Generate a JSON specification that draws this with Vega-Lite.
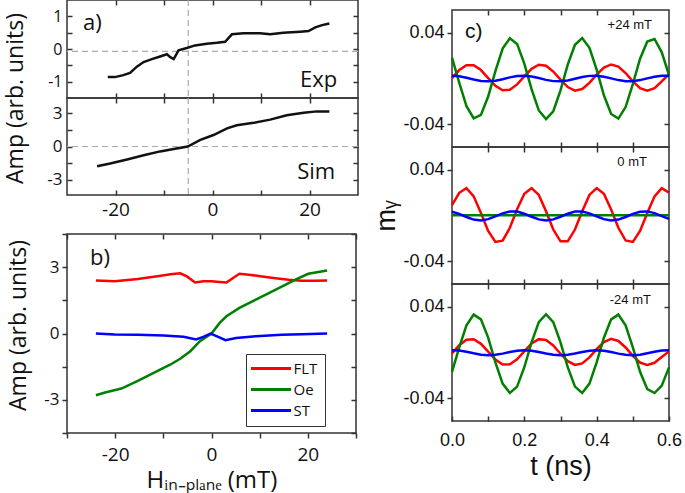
{
"$schema": "https://vega.github.io/schema/vega-lite/v6.json",
"padding": {"left": 4, "top": -2, "right": 2, "bottom": 2},
"config": {
  "view": {"stroke": "#333", "strokeWidth": 1.5},
  "font": "Open Sans",
  "axis": {"grid": false, "domain": false, "tickColor": "#333", "tickWidth": 1.5, "labelColor": "#111", "titleColor": "#111", "labelFont": "Open Sans", "titleFont": "Open Sans", "titleFontWeight": "normal", "labelOverlap": false, "labelFlush": false},
  "text": {"color": "#111"}
},
"datasets": {
  "exp": [{"h":-21.6,"a":-0.86},{"h":-20.1,"a":-0.86},{"h":-18.4,"a":-0.8},{"h":-17,"a":-0.73},{"h":-15.6,"a":-0.54},{"h":-14.2,"a":-0.4},{"h":-12.5,"a":-0.31},{"h":-10.8,"a":-0.23},{"h":-9.4,"a":-0.16},{"h":-8.7,"a":-0.25},{"h":-8,"a":-0.31},{"h":-7,"a":-0.04},{"h":-5.3,"a":0.03},{"h":-3.6,"a":0.11},{"h":-1.2,"a":0.16},{"h":0.9,"a":0.19},{"h":2.6,"a":0.22},{"h":4,"a":0.45},{"h":6.4,"a":0.48},{"h":9.8,"a":0.48},{"h":11.9,"a":0.45},{"h":14.6,"a":0.5},{"h":18.1,"a":0.53},{"h":19.8,"a":0.55},{"h":21.2,"a":0.66},{"h":22.6,"a":0.73},{"h":24.1,"a":0.78}],
  "sim": [{"h":-23.8,"a":-1.77},{"h":-21.1,"a":-1.53},{"h":-17.6,"a":-1.17},{"h":-14.2,"a":-0.79},{"h":-10.8,"a":-0.44},{"h":-8,"a":-0.23},{"h":-5.1,"a":0},{"h":-2.5,"a":0.59},{"h":0.2,"a":1.03},{"h":3,"a":1.62},{"h":5,"a":1.91},{"h":8.5,"a":2.12},{"h":11.9,"a":2.41},{"h":15.3,"a":2.8},{"h":18.8,"a":3.03},{"h":21.5,"a":3.15},{"h":24.1,"a":3.15}],
  "b": [
    {"s":"FLT","h":-24,"a":2.4},{"s":"FLT","h":-20.1,"a":2.36},{"s":"FLT","h":-15.3,"a":2.46},{"s":"FLT","h":-10.5,"a":2.61},{"s":"FLT","h":-8.5,"a":2.68},{"s":"FLT","h":-6.5,"a":2.72},{"s":"FLT","h":-5.1,"a":2.58},{"s":"FLT","h":-3.4,"a":2.31},{"s":"FLT","h":-1.7,"a":2.36},{"s":"FLT","h":0,"a":2.36},{"s":"FLT","h":1.7,"a":2.33},{"s":"FLT","h":3.1,"a":2.31},{"s":"FLT","h":4.4,"a":2.5},{"s":"FLT","h":5.8,"a":2.7},{"s":"FLT","h":7.8,"a":2.66},{"s":"FLT","h":10.5,"a":2.58},{"s":"FLT","h":13.3,"a":2.5},{"s":"FLT","h":16,"a":2.43},{"s":"FLT","h":18.7,"a":2.39},{"s":"FLT","h":21.4,"a":2.39},{"s":"FLT","h":24,"a":2.4},
    {"s":"Oe","h":-24,"a":-2.79},{"s":"Oe","h":-22.1,"a":-2.67},{"s":"Oe","h":-18.7,"a":-2.49},{"s":"Oe","h":-15.3,"a":-2.14},{"s":"Oe","h":-11.9,"a":-1.77},{"s":"Oe","h":-8.5,"a":-1.4},{"s":"Oe","h":-6.5,"a":-1.14},{"s":"Oe","h":-4.4,"a":-0.8},{"s":"Oe","h":-2.4,"a":-0.35},{"s":"Oe","h":0,"a":0},{"s":"Oe","h":1.7,"a":0.48},{"s":"Oe","h":3.1,"a":0.78},{"s":"Oe","h":5.8,"a":1.16},{"s":"Oe","h":9.2,"a":1.53},{"s":"Oe","h":11.9,"a":1.83},{"s":"Oe","h":15.3,"a":2.2},{"s":"Oe","h":17.3,"a":2.43},{"s":"Oe","h":20.1,"a":2.7},{"s":"Oe","h":24,"a":2.85},
    {"s":"ST","h":-24,"a":0},{"s":"ST","h":-20.1,"a":-0.05},{"s":"ST","h":-15.3,"a":-0.06},{"s":"ST","h":-9.9,"a":-0.09},{"s":"ST","h":-5.8,"a":-0.15},{"s":"ST","h":-3.2,"a":-0.27},{"s":"ST","h":-1.7,"a":-0.15},{"s":"ST","h":-0.2,"a":0},{"s":"ST","h":1.4,"a":-0.15},{"s":"ST","h":2.9,"a":-0.3},{"s":"ST","h":5.1,"a":-0.2},{"s":"ST","h":9.2,"a":-0.12},{"s":"ST","h":14.6,"a":-0.06},{"s":"ST","h":18.7,"a":-0.03},{"s":"ST","h":24,"a":0}
  ],
  "c1": [
    {"s":"FLT","t":0,"m":0.0004},{"s":"FLT","t":0.02,"m":0.0074},{"s":"FLT","t":0.04,"m":0.0117},{"s":"FLT","t":0.06,"m":0.0117},{"s":"FLT","t":0.08,"m":0.0074},{"s":"FLT","t":0.1,"m":0.0004},{"s":"FLT","t":0.12,"m":-0.0064},{"s":"FLT","t":0.14,"m":-0.0103},{"s":"FLT","t":0.16,"m":-0.0098},{"s":"FLT","t":0.18,"m":-0.0052},{"s":"FLT","t":0.2,"m":0.0019},{"s":"FLT","t":0.22,"m":0.0085},{"s":"FLT","t":0.24,"m":0.0121},{"s":"FLT","t":0.26,"m":0.0112},{"s":"FLT","t":0.28,"m":0.0061},{"s":"FLT","t":0.3,"m":-0.001},{"s":"FLT","t":0.32,"m":-0.0075},{"s":"FLT","t":0.34,"m":-0.0106},{"s":"FLT","t":0.36,"m":-0.0092},{"s":"FLT","t":0.38,"m":-0.0038},{"s":"FLT","t":0.4,"m":0.0034},{"s":"FLT","t":0.42,"m":0.0095},{"s":"FLT","t":0.44,"m":0.0123},{"s":"FLT","t":0.46,"m":0.0104},{"s":"FLT","t":0.48,"m":0.0048},{"s":"FLT","t":0.5,"m":-0.0025},{"s":"FLT","t":0.52,"m":-0.0084},{"s":"FLT","t":0.54,"m":-0.0107},{"s":"FLT","t":0.56,"m":-0.0084},{"s":"FLT","t":0.58,"m":-0.0025},{"s":"FLT","t":0.6,"m":0.0038},
    {"s":"Oe","t":0,"m":0.0182},{"s":"Oe","t":0.02,"m":-0.0037},{"s":"Oe","t":0.04,"m":-0.0242},{"s":"Oe","t":0.06,"m":-0.0349},{"s":"Oe","t":0.08,"m":-0.0319},{"s":"Oe","t":0.1,"m":-0.0158},{"s":"Oe","t":0.12,"m":0.0065},{"s":"Oe","t":0.14,"m":0.0262},{"s":"Oe","t":0.16,"m":0.0353},{"s":"Oe","t":0.18,"m":0.0303},{"s":"Oe","t":0.2,"m":0.0131},{"s":"Oe","t":0.22,"m":-0.0093},{"s":"Oe","t":0.24,"m":-0.028},{"s":"Oe","t":0.26,"m":-0.0355},{"s":"Oe","t":0.28,"m":-0.0287},{"s":"Oe","t":0.3,"m":-0.0104},{"s":"Oe","t":0.32,"m":0.0121},{"s":"Oe","t":0.34,"m":0.0296},{"s":"Oe","t":0.36,"m":0.0354},{"s":"Oe","t":0.38,"m":0.0269},{"s":"Oe","t":0.4,"m":0.0077},{"s":"Oe","t":0.42,"m":-0.0147},{"s":"Oe","t":0.44,"m":-0.0311},{"s":"Oe","t":0.46,"m":-0.0351},{"s":"Oe","t":0.48,"m":-0.025},{"s":"Oe","t":0.5,"m":-0.0049},{"s":"Oe","t":0.52,"m":0.0173},{"s":"Oe","t":0.54,"m":0.0324},{"s":"Oe","t":0.56,"m":0.0346},{"s":"Oe","t":0.58,"m":0.0229},{"s":"Oe","t":0.6,"m":0.003},
    {"s":"ST","t":0,"m":0.0025},{"s":"ST","t":0.02,"m":0.002},{"s":"ST","t":0.04,"m":0.0007},{"s":"ST","t":0.06,"m":-0.0009},{"s":"ST","t":0.08,"m":-0.0021},{"s":"ST","t":0.1,"m":-0.0025},{"s":"ST","t":0.12,"m":-0.0019},{"s":"ST","t":0.14,"m":-0.0006},{"s":"ST","t":0.16,"m":0.001},{"s":"ST","t":0.18,"m":0.0022},{"s":"ST","t":0.2,"m":0.0025},{"s":"ST","t":0.22,"m":0.0018},{"s":"ST","t":0.24,"m":0.0004},{"s":"ST","t":0.26,"m":-0.0012},{"s":"ST","t":0.28,"m":-0.0023},{"s":"ST","t":0.3,"m":-0.0025},{"s":"ST","t":0.32,"m":-0.0017},{"s":"ST","t":0.34,"m":-0.0002},{"s":"ST","t":0.36,"m":0.0013},{"s":"ST","t":0.38,"m":0.0023},{"s":"ST","t":0.4,"m":0.0024},{"s":"ST","t":0.42,"m":0.0016},{"s":"ST","t":0.44,"m":0.0001},{"s":"ST","t":0.46,"m":-0.0014},{"s":"ST","t":0.48,"m":-0.0024},{"s":"ST","t":0.5,"m":-0.0024},{"s":"ST","t":0.52,"m":-0.0014},{"s":"ST","t":0.54,"m":0.0001},{"s":"ST","t":0.56,"m":0.0016},{"s":"ST","t":0.58,"m":0.0024},{"s":"ST","t":0.6,"m":0.0023}
  ],
  "c2": [
    {"s":"FLT","t":0,"m":0.009},{"s":"FLT","t":0.02,"m":0.0199},{"s":"FLT","t":0.04,"m":0.0239},{"s":"FLT","t":0.06,"m":0.0168},{"s":"FLT","t":0.08,"m":0.0021},{"s":"FLT","t":0.1,"m":-0.0136},{"s":"FLT","t":0.12,"m":-0.0231},{"s":"FLT","t":0.14,"m":-0.022},{"s":"FLT","t":0.16,"m":-0.0108},{"s":"FLT","t":0.18,"m":0.0054},{"s":"FLT","t":0.2,"m":0.019},{"s":"FLT","t":0.22,"m":0.024},{"s":"FLT","t":0.24,"m":0.018},{"s":"FLT","t":0.26,"m":0.0037},{"s":"FLT","t":0.28,"m":-0.0123},{"s":"FLT","t":0.3,"m":-0.0226},{"s":"FLT","t":0.32,"m":-0.0226},{"s":"FLT","t":0.34,"m":-0.0123},{"s":"FLT","t":0.36,"m":0.0037},{"s":"FLT","t":0.38,"m":0.018},{"s":"FLT","t":0.4,"m":0.024},{"s":"FLT","t":0.42,"m":0.019},{"s":"FLT","t":0.44,"m":0.0053},{"s":"FLT","t":0.46,"m":-0.0108},{"s":"FLT","t":0.48,"m":-0.0219},{"s":"FLT","t":0.5,"m":-0.0231},{"s":"FLT","t":0.52,"m":-0.0136},{"s":"FLT","t":0.54,"m":0.0021},{"s":"FLT","t":0.56,"m":0.0168},{"s":"FLT","t":0.58,"m":0.0239},{"s":"FLT","t":0.6,"m":0.02},
    {"s":"Oe","t":0,"m":0.0003},{"s":"Oe","t":0.1,"m":0.0003},{"s":"Oe","t":0.2,"m":0.0003},{"s":"Oe","t":0.3,"m":0.0003},{"s":"Oe","t":0.4,"m":0.0003},{"s":"Oe","t":0.5,"m":0.0003},{"s":"Oe","t":0.6,"m":0.0003},
    {"s":"ST","t":0,"m":0.0033},{"s":"ST","t":0.02,"m":0.0014},{"s":"ST","t":0.04,"m":-0.0013},{"s":"ST","t":0.06,"m":-0.0036},{"s":"ST","t":0.08,"m":-0.0043},{"s":"ST","t":0.1,"m":-0.0032},{"s":"ST","t":0.12,"m":-0.0008},{"s":"ST","t":0.14,"m":0.0019},{"s":"ST","t":0.16,"m":0.0035},{"s":"ST","t":0.18,"m":0.0034},{"s":"ST","t":0.2,"m":0.0016},{"s":"ST","t":0.22,"m":-0.0011},{"s":"ST","t":0.24,"m":-0.0034},{"s":"ST","t":0.26,"m":-0.0043},{"s":"ST","t":0.28,"m":-0.0034},{"s":"ST","t":0.3,"m":-0.0011},{"s":"ST","t":0.32,"m":0.0016},{"s":"ST","t":0.34,"m":0.0034},{"s":"ST","t":0.36,"m":0.0035},{"s":"ST","t":0.38,"m":0.0019},{"s":"ST","t":0.4,"m":-0.0008},{"s":"ST","t":0.42,"m":-0.0032},{"s":"ST","t":0.44,"m":-0.0043},{"s":"ST","t":0.46,"m":-0.0036},{"s":"ST","t":0.48,"m":-0.0013},{"s":"ST","t":0.5,"m":0.0014},{"s":"ST","t":0.52,"m":0.0033},{"s":"ST","t":0.54,"m":0.0036},{"s":"ST","t":0.56,"m":0.0021},{"s":"ST","t":0.58,"m":-0.0005},{"s":"ST","t":0.6,"m":-0.003}
  ],
  "c3": [
    {"s":"FLT","t":0,"m":-0.0007},{"s":"FLT","t":0.02,"m":0.0064},{"s":"FLT","t":0.04,"m":0.0111},{"s":"FLT","t":0.06,"m":0.0116},{"s":"FLT","t":0.08,"m":0.0076},{"s":"FLT","t":0.1,"m":0.0008},{"s":"FLT","t":0.12,"m":-0.0062},{"s":"FLT","t":0.14,"m":-0.0105},{"s":"FLT","t":0.16,"m":-0.0104},{"s":"FLT","t":0.18,"m":-0.0059},{"s":"FLT","t":0.2,"m":0.0011},{"s":"FLT","t":0.22,"m":0.0079},{"s":"FLT","t":0.24,"m":0.0117},{"s":"FLT","t":0.26,"m":0.011},{"s":"FLT","t":0.28,"m":0.0061},{"s":"FLT","t":0.3,"m":-0.0011},{"s":"FLT","t":0.32,"m":-0.0076},{"s":"FLT","t":0.34,"m":-0.0109},{"s":"FLT","t":0.36,"m":-0.0096},{"s":"FLT","t":0.38,"m":-0.0043},{"s":"FLT","t":0.4,"m":0.003},{"s":"FLT","t":0.42,"m":0.0092},{"s":"FLT","t":0.44,"m":0.012},{"s":"FLT","t":0.46,"m":0.0101},{"s":"FLT","t":0.48,"m":0.0044},{"s":"FLT","t":0.5,"m":-0.0029},{"s":"FLT","t":0.52,"m":-0.0088},{"s":"FLT","t":0.54,"m":-0.011},{"s":"FLT","t":0.56,"m":-0.009},{"s":"FLT","t":0.58,"m":-0.004},{"s":"FLT","t":0.6,"m":0.001},
    {"s":"Oe","t":0,"m":-0.017},{"s":"Oe","t":0.02,"m":0.0045},{"s":"Oe","t":0.04,"m":0.0238},{"s":"Oe","t":0.06,"m":0.0332},{"s":"Oe","t":0.08,"m":0.029},{"s":"Oe","t":0.1,"m":0.013},{"s":"Oe","t":0.12,"m":-0.0087},{"s":"Oe","t":0.14,"m":-0.0272},{"s":"Oe","t":0.16,"m":-0.0354},{"s":"Oe","t":0.18,"m":-0.0299},{"s":"Oe","t":0.2,"m":-0.0129},{"s":"Oe","t":0.22,"m":0.0088},{"s":"Oe","t":0.24,"m":0.0266},{"s":"Oe","t":0.26,"m":0.0335},{"s":"Oe","t":0.28,"m":0.0266},{"s":"Oe","t":0.3,"m":0.0088},{"s":"Oe","t":0.32,"m":-0.0129},{"s":"Oe","t":0.34,"m":-0.0299},{"s":"Oe","t":0.36,"m":-0.0354},{"s":"Oe","t":0.38,"m":-0.0272},{"s":"Oe","t":0.4,"m":-0.0087},{"s":"Oe","t":0.42,"m":0.0129},{"s":"Oe","t":0.44,"m":0.029},{"s":"Oe","t":0.46,"m":0.0332},{"s":"Oe","t":0.48,"m":0.0238},{"s":"Oe","t":0.5,"m":0.0045},{"s":"Oe","t":0.52,"m":-0.0169},{"s":"Oe","t":0.54,"m":-0.0321},{"s":"Oe","t":0.56,"m":-0.0355},{"s":"Oe","t":0.58,"m":-0.029},{"s":"Oe","t":0.6,"m":-0.013},
    {"s":"ST","t":0,"m":0.002},{"s":"ST","t":0.02,"m":0.0017},{"s":"ST","t":0.04,"m":0.0007},{"s":"ST","t":0.06,"m":-0.0007},{"s":"ST","t":0.08,"m":-0.0019},{"s":"ST","t":0.1,"m":-0.0024},{"s":"ST","t":0.12,"m":-0.002},{"s":"ST","t":0.14,"m":-0.001},{"s":"ST","t":0.16,"m":0.0004},{"s":"ST","t":0.18,"m":0.0015},{"s":"ST","t":0.2,"m":0.002},{"s":"ST","t":0.22,"m":0.0016},{"s":"ST","t":0.24,"m":0.0005},{"s":"ST","t":0.26,"m":-0.0009},{"s":"ST","t":0.28,"m":-0.002},{"s":"ST","t":0.3,"m":-0.0024},{"s":"ST","t":0.32,"m":-0.002},{"s":"ST","t":0.34,"m":-0.0009},{"s":"ST","t":0.36,"m":0.0005},{"s":"ST","t":0.38,"m":0.0016},{"s":"ST","t":0.4,"m":0.002},{"s":"ST","t":0.42,"m":0.0015},{"s":"ST","t":0.44,"m":0.0004},{"s":"ST","t":0.46,"m":-0.001},{"s":"ST","t":0.48,"m":-0.002},{"s":"ST","t":0.5,"m":-0.0024},{"s":"ST","t":0.52,"m":-0.0019},{"s":"ST","t":0.54,"m":-0.0007},{"s":"ST","t":0.56,"m":0.0006},{"s":"ST","t":0.58,"m":0.0017},{"s":"ST","t":0.6,"m":0.002}
  ]
},
"resolve": {"scale": {"color": "independent"}, "legend": {"color": "independent"}},
"spacing": 12,
"hconcat": [
 {
  "resolve": {"scale": {"color": "independent"}, "legend": {"color": "independent"}},
  "spacing": 4,
  "align": "none",
  "vconcat": [
   {
    "spacing": 0,
    "bounds": "flush",
    "vconcat": [
     {
      "width": 291, "height": 98,
      "resolve": {"axis": {"x": "independent", "y": "independent"}},
      "layer": [
       {"data": {"values": [{}]}, "mark": {"type": "rule", "color": "#aaa", "strokeDash": [6,4], "strokeWidth": 1.2},
        "encoding": {"y": {"datum": -0.07, "type": "quantitative", "scale": {"domain": [-1.5,1.5], "nice": false, "zero": false}, "axis": {"orient": "right", "values": [-1,-0.5,0,0.5,1], "labels": false, "tickSize": -5, "title": null}}}},
       {"data": {"values": [{}]}, "mark": {"type": "rule", "color": "#aaa", "strokeDash": [6,4], "strokeWidth": 1.2},
        "encoding": {"x": {"datum": -5, "type": "quantitative", "scale": {"domain": [-30,30], "nice": false, "zero": false}, "axis": {"orient": "top", "values": [-20,-10,0,10,20], "labels": false, "tickSize": -5, "title": null}}}},
       {"data": {"name": "exp"}, "mark": {"type": "line", "color": "#111", "strokeWidth": 2.5},
        "encoding": {
         "x": {"field": "h", "type": "quantitative", "scale": {"domain": [-30,30], "nice": false, "zero": false}, "axis": {"orient": "bottom", "values": [-20,-10,0,10,20], "labels": false, "tickSize": -5, "title": null}},
         "y": {"field": "a", "type": "quantitative", "scale": {"domain": [-1.5,1.5], "nice": false, "zero": false}, "axis": {"orient": "left", "values": [-1,-0.5,0,0.5,1], "tickSize": -5, "labelPadding": 10, "labelFontSize": 16, "labelExpr": "abs(datum.value) == 0.5 ? '' : '' + datum.value", "title": null}}}},
       {"data": {"values": [{"x": -26.7, "y": 0.8, "label": "a)"}]}, "mark": {"type": "text", "fontSize": 22, "align": "left", "baseline": "middle"},
        "encoding": {"x": {"field": "x", "type": "quantitative", "scale": {"domain": [-30,30], "nice": false, "zero": false}, "axis": null}, "y": {"field": "y", "type": "quantitative", "scale": {"domain": [-1.5,1.5], "nice": false, "zero": false}, "axis": null}, "text": {"field": "label"}}},
       {"data": {"values": [{"x": 25.7, "y": -0.96, "label": "Exp"}]}, "mark": {"type": "text", "fontSize": 22, "align": "right", "baseline": "middle"},
        "encoding": {"x": {"field": "x", "type": "quantitative", "scale": {"domain": [-30,30], "nice": false, "zero": false}, "axis": null}, "y": {"field": "y", "type": "quantitative", "scale": {"domain": [-1.5,1.5], "nice": false, "zero": false}, "axis": null}, "text": {"field": "label"}}}
      ]
     },
     {
      "width": 291, "height": 97,
      "resolve": {"axis": {"x": "independent", "y": "independent"}},
      "layer": [
       {"data": {"values": [{}]}, "mark": {"type": "rule", "color": "#aaa", "strokeDash": [6,4], "strokeWidth": 1.2},
        "encoding": {"y": {"datum": 0, "type": "quantitative", "scale": {"domain": [-4.35,4.35], "nice": false, "zero": false}, "axis": {"orient": "right", "values": [-3,-1.5,0,1.5,3], "labels": false, "tickSize": -5, "title": null}}}},
       {"data": {"values": [{}]}, "mark": {"type": "rule", "color": "#aaa", "strokeDash": [6,4], "strokeWidth": 1.2},
        "encoding": {"x": {"datum": -5, "type": "quantitative", "scale": {"domain": [-30,30], "nice": false, "zero": false}, "axis": {"orient": "top", "values": [-20,-10,0,10,20], "labels": false, "tickSize": -5, "title": null}}}},
       {"data": {"name": "sim"}, "mark": {"type": "line", "color": "#111", "strokeWidth": 2.5},
        "encoding": {
         "x": {"field": "h", "type": "quantitative", "scale": {"domain": [-30,30], "nice": false, "zero": false}, "axis": {"orient": "bottom", "values": [-20,-10,0,10,20], "tickSize": -5, "labelPadding": 10, "labelFontSize": 19, "labelExpr": "datum.value % 20 == 0 ? '' + datum.value : ''", "title": null}},
         "y": {"field": "a", "type": "quantitative", "scale": {"domain": [-4.35,4.35], "nice": false, "zero": false}, "axis": {"orient": "left", "values": [-3,-1.5,0,1.5,3], "tickSize": -5, "labelPadding": 10, "labelFontSize": 17, "labelExpr": "datum.value % 3 == 0 ? '' + datum.value : ''", "title": "Amp (arb. units)", "titleFontSize": 23, "titleY": 0, "titlePadding": 19}}}},
       {"data": {"values": [{"x": 25.3, "y": -2.32, "label": "Sim"}]}, "mark": {"type": "text", "fontSize": 22, "align": "right", "baseline": "middle"},
        "encoding": {"x": {"field": "x", "type": "quantitative", "scale": {"domain": [-30,30], "nice": false, "zero": false}, "axis": null}, "y": {"field": "y", "type": "quantitative", "scale": {"domain": [-4.35,4.35], "nice": false, "zero": false}, "axis": null}, "text": {"field": "label"}}}
      ]
     }
    ]
   },
   {
    "width": 289, "height": 199,
    "resolve": {"axis": {"x": "independent", "y": "independent"}},
    "layer": [
     {"data": {"name": "b"}, "mark": {"type": "line", "strokeWidth": 2.5},
      "encoding": {
       "x": {"field": "h", "type": "quantitative", "scale": {"domain": [-30,30], "nice": false, "zero": false}, "axis": {"orient": "bottom", "values": [-30,-20,-10,0,10,20,30], "tickSize": 5, "labelPadding": 7, "labelFontSize": 19, "labelExpr": "datum.value % 20 == 0 ? '' + datum.value : ''", "title": "Hᵢₙ₋ₚₗₐₙₑ (mT)", "titleFontSize": 24, "titlePadding": 4}},
       "y": {"field": "a", "type": "quantitative", "scale": {"domain": [-4.5,4.5], "nice": false, "zero": false}, "axis": {"orient": "left", "values": [-4.5,-3,-1.5,0,1.5,3,4.5], "tickSize": 5, "labelPadding": 3, "labelFontSize": 17, "labelExpr": "datum.value % 3 == 0 ? '' + datum.value : ''", "title": "Amp (arb. units)", "titleFontSize": 23, "titlePadding": 13, "titleY": 91}},
       "color": {"field": "s", "type": "nominal", "scale": {"domain": ["FLT","Oe","ST"], "range": ["#ff0000","#008000","#0000ff"]},
        "legend": {"title": null, "orient": "none", "legendX": 179, "legendY": 120, "strokeColor": "#333", "fillColor": "white", "padding": 7, "labelFont": "Open Sans", "labelFontSize": 15, "labelColor": "#111", "symbolType": "M-4,0H4", "symbolStrokeWidth": 3, "symbolSize": 100, "symbolOffset": 10.5, "labelOffset": 15, "rowPadding": 5}}}},
     {"data": {"values": [{"x": -25.2, "y": 3.42, "label": "b)"}]}, "mark": {"type": "text", "fontSize": 22, "align": "left", "baseline": "middle"},
      "encoding": {"x": {"field": "x", "type": "quantitative", "scale": {"domain": [-30,30], "nice": false, "zero": false}, "axis": {"orient": "top", "values": [-30,-20,-10,0,10,20,30], "labels": false, "tickSize": -5, "title": null}}, "y": {"field": "y", "type": "quantitative", "scale": {"domain": [-4.5,4.5], "nice": false, "zero": false}, "axis": {"orient": "right", "values": [-4.5,-3,-1.5,0,1.5,3,4.5], "labels": false, "tickSize": -5, "title": null}}, "text": {"field": "label"}}}
    ]
   }
  ]
 },
 {
  "resolve": {"scale": {"color": "independent"}, "legend": {"color": "independent"}},
  "spacing": 0,
  "bounds": "flush",
  "vconcat": [
   {"width": 217, "height": 10, "view": {"stroke": null}, "data": {"values": []}, "mark": "point"},
   {
    "width": 217, "height": 137,
    "resolve": {"axis": {"x": "independent", "y": "independent"}},
    "layer": [
     {"data": {"name": "c1"}, "mark": {"type": "line", "strokeWidth": 2.5},
      "encoding": {
       "x": {"field": "t", "type": "quantitative", "scale": {"domain": [0,0.6], "nice": false, "zero": false}, "axis": {"orient": "bottom", "values": [0.1,0.2,0.3,0.4,0.5], "labels": false, "tickSize": -5, "title": null}},
       "y": {"field": "m", "type": "quantitative", "scale": {"domain": [-0.06,0.06], "nice": false, "zero": false}, "axis": {"orient": "left", "values": [-0.04,0.04], "tickSize": 5, "labelPadding": 3, "labelFont": "Liberation Sans", "labelFontSize": 18, "labelExpr": "'' + datum.value", "title": null}},
       "color": {"field": "s", "type": "nominal", "scale": {"domain": ["FLT","Oe","ST"], "range": ["#ff0000","#008000","#0000ff"]}, "legend": null}}},
     {"data": {"values": [{"x": 0.036, "y": 0.041, "label": "c)"}]}, "mark": {"type": "text", "font": "Liberation Sans", "fontSize": 21, "align": "left", "baseline": "middle"},
      "encoding": {"x": {"field": "x", "type": "quantitative", "scale": {"domain": [0,0.6], "nice": false, "zero": false}, "axis": {"orient": "top", "values": [0.1,0.2,0.3,0.4,0.5], "labels": false, "tickSize": -5, "title": null}}, "y": {"field": "y", "type": "quantitative", "scale": {"domain": [-0.06,0.06], "nice": false, "zero": false}, "axis": {"orient": "right", "values": [-0.04,0.04], "labels": false, "tickSize": -5, "title": null}}, "text": {"field": "label"}}},
     {"data": {"values": [{"x": 0.553, "y": 0.0465, "label": "+24 mT"}]}, "mark": {"type": "text", "font": "Liberation Sans", "fontSize": 13, "align": "right", "baseline": "middle"},
      "encoding": {"x": {"field": "x", "type": "quantitative", "scale": {"domain": [0,0.6], "nice": false, "zero": false}, "axis": null}, "y": {"field": "y", "type": "quantitative", "scale": {"domain": [-0.06,0.06], "nice": false, "zero": false}, "axis": null}, "text": {"field": "label"}}}
    ]
   },
   {
    "width": 217, "height": 137,
    "resolve": {"axis": {"x": "independent", "y": "independent"}},
    "layer": [
     {"data": {"name": "c2"}, "mark": {"type": "line", "strokeWidth": 2.5},
      "encoding": {
       "x": {"field": "t", "type": "quantitative", "scale": {"domain": [0,0.6], "nice": false, "zero": false}, "axis": {"orient": "bottom", "values": [0.1,0.2,0.3,0.4,0.5], "labels": false, "tickSize": -5, "title": null}},
       "y": {"field": "m", "type": "quantitative", "scale": {"domain": [-0.06,0.06], "nice": false, "zero": false}, "axis": {"orient": "left", "values": [-0.04,0.04], "tickSize": 5, "labelPadding": 3, "labelFont": "Liberation Sans", "labelFontSize": 18, "labelExpr": "'' + datum.value", "title": "mᵧ", "titleFont": "Liberation Sans", "titleFontSize": 27, "titlePadding": 2}},
       "color": {"field": "s", "type": "nominal", "scale": {"domain": ["FLT","Oe","ST"], "range": ["#ff0000","#008000","#0000ff"]}, "legend": null}}},
     {"data": {"values": [{"x": 0.539, "y": 0.047, "label": "0 mT"}]}, "mark": {"type": "text", "font": "Liberation Sans", "fontSize": 13, "align": "right", "baseline": "middle"},
      "encoding": {"x": {"field": "x", "type": "quantitative", "scale": {"domain": [0,0.6], "nice": false, "zero": false}, "axis": {"orient": "top", "values": [0.1,0.2,0.3,0.4,0.5], "labels": false, "tickSize": -5, "title": null}}, "y": {"field": "y", "type": "quantitative", "scale": {"domain": [-0.06,0.06], "nice": false, "zero": false}, "axis": {"orient": "right", "values": [-0.04,0.04], "labels": false, "tickSize": -5, "title": null}}, "text": {"field": "label"}}}
    ]
   },
   {
    "width": 217, "height": 137,
    "resolve": {"axis": {"x": "independent", "y": "independent"}},
    "layer": [
     {"data": {"name": "c3"}, "mark": {"type": "line", "strokeWidth": 2.5},
      "encoding": {
       "x": {"field": "t", "type": "quantitative", "scale": {"domain": [0,0.6], "nice": false, "zero": false}, "axis": {"orient": "bottom", "values": [0,0.1,0.2,0.3,0.4,0.5,0.6], "tickSize": -5, "labelPadding": 15, "labelFont": "Liberation Sans", "labelFontSize": 18, "labelExpr": "round(datum.value * 10) % 2 == 0 ? format(datum.value, '.1f') : ''", "title": "t (ns)", "titleFont": "Liberation Sans", "titleFontSize": 27, "titlePadding": 4}},
       "y": {"field": "m", "type": "quantitative", "scale": {"domain": [-0.06,0.06], "nice": false, "zero": false}, "axis": {"orient": "left", "values": [-0.04,0.04], "tickSize": 5, "labelPadding": 3, "labelFont": "Liberation Sans", "labelFontSize": 18, "labelExpr": "'' + datum.value", "title": null}},
       "color": {"field": "s", "type": "nominal", "scale": {"domain": ["FLT","Oe","ST"], "range": ["#ff0000","#008000","#0000ff"]}, "legend": null}}},
     {"data": {"values": [{"x": 0.55, "y": 0.046, "label": "-24 mT"}]}, "mark": {"type": "text", "font": "Liberation Sans", "fontSize": 13, "align": "right", "baseline": "middle"},
      "encoding": {"x": {"field": "x", "type": "quantitative", "scale": {"domain": [0,0.6], "nice": false, "zero": false}, "axis": {"orient": "top", "values": [0.1,0.2,0.3,0.4,0.5], "labels": false, "tickSize": -5, "title": null}}, "y": {"field": "y", "type": "quantitative", "scale": {"domain": [-0.06,0.06], "nice": false, "zero": false}, "axis": {"orient": "right", "values": [-0.04,0.04], "labels": false, "tickSize": -5, "title": null}}, "text": {"field": "label"}}}
    ]
   }
  ]
 }
]
}
